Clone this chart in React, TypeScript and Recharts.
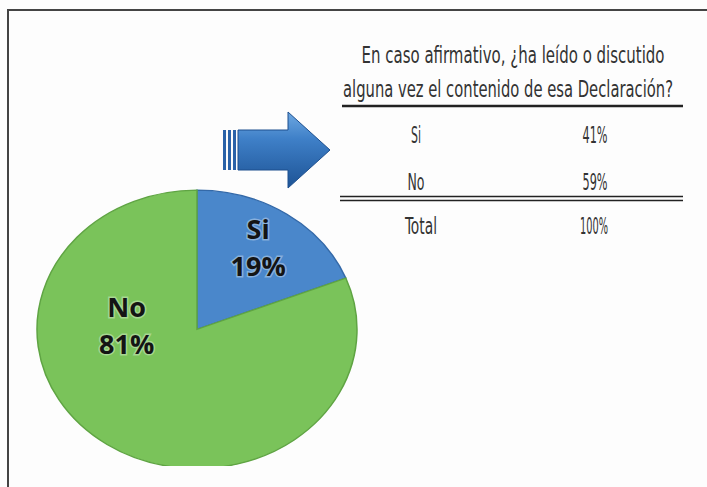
import { PieChart, Pie, Cell } from 'recharts'

// main pie
const pieNames = ['Si', 'No']
const pieValues = [19, 81]
const pieColors = ['#4a87cb', '#7ac35a']
const pieEdges = ['#3469a8', '#5fa443']

// side table
const tableTitle = ['En caso afirmativo, ¿ha leído o discutido', 'alguna vez el contenido de esa Declaración?']
const tableLabels = ['Si', 'No']
const tableValues = ['41%', '59%']
const totalLabel = 'Total'
const totalValue = '100%'

const pieData = pieNames.map((name, i) => ({ name, value: pieValues[i] }))

const SQUASH = 0.87
const CX = 192
const CY = 325
const RAD = Math.PI / 180
const narrow = '"DejaVu Sans Condensed", "Liberation Sans Narrow", "Liberation Sans", sans-serif'

function renderLabel(props: any) {
  const { cx, cy, midAngle, outerRadius, percent, name, value } = props
  // big slice label sits left of centre (excel best fit), small one on its mid angle
  const big = percent > 0.5
  const ang = big ? 180 : midAngle
  const rf = big ? 0.44 : 0.68
  const x = cx + outerRadius * rf * Math.cos(-ang * RAD)
  const y = cy + outerRadius * rf * Math.sin(-ang * RAD)
  // chart is squashed vertically by css, so un-squash the text
  return (
    <text
      transform={`translate(${x},${y}) scale(1,${1 / SQUASH})`}
      textAnchor="middle"
      fontFamily='"Open Sans", sans-serif'
      fontWeight={700}
      fontSize={27}
      fill="#141414"
      stroke="rgba(255,255,255,0.35)"
      strokeWidth={3}
      paintOrder="stroke"
    >
      <tspan x={0} y={-12}>{name}</tspan>
      <tspan x={0} y={25}>{`${value}%`}</tspan>
    </text>
  )
}

function Cond({ x, y, w, children }: { x: number; y: number; w: number; children: string }) {
  return (
    <text
      transform={`translate(${x},${y}) scale(1,1.35)`}
      textAnchor="middle"
      textLength={w}
      lengthAdjust="spacingAndGlyphs"
    >
      {children}
    </text>
  )
}

export default function App() {
  return (
    <div style={{ position: 'absolute', left: 0, top: 0, width: 707, height: 487, background: '#fdfdfd', overflow: 'hidden' }}>
      <div
        style={{
          position: 'absolute',
          left: 0,
          top: 0,
          transform: `scaleY(${SQUASH})`,
          transformOrigin: `${CX}px ${CY}px`,
        }}
      >
        <PieChart width={707} height={487}>
          <Pie
            data={pieData}
            dataKey="value"
            nameKey="name"
            cx={CX}
            cy={CY}
            outerRadius={160}
            startAngle={90}
            endAngle={-270}
            label={renderLabel}
            labelLine={false}
            strokeWidth={1.5}
            isAnimationActive={false}
          >
            {pieData.map((d, i) => (
              <Cell key={d.name} fill={pieColors[i]} stroke={pieEdges[i]} />
            ))}
          </Pie>
        </PieChart>
      </div>
      <svg width={707} height={487} style={{ position: 'absolute', left: 0, top: 0, pointerEvents: 'none' }}>
        <defs>
          <linearGradient id="arrowGrad" x1="0" y1="0" x2="0" y2="1">
            <stop offset="0%" stopColor="#6ea8e2" />
            <stop offset="35%" stopColor="#3f80c8" />
            <stop offset="100%" stopColor="#1d5395" />
          </linearGradient>
        </defs>
        {/* frame */}
        <line x1={8} x2={707} y1={10} y2={10} stroke="#444" strokeWidth={2} />
        <line x1={8} x2={8} y1={9} y2={487} stroke="#444" strokeWidth={2} />
        {/* arrow */}
        <g>
          <rect x={223} y={130} width={3} height={40} fill="#2a62a8" />
          <rect x={228} y={130} width={3} height={40} fill="#2a62a8" />
          <rect x={233} y={130} width={3} height={40} fill="#2a62a8" />
          <path
            d="M238,130 L288,130 L288,112 L330,150 L288,188 L288,170 L238,170 Z"
            fill="url(#arrowGrad)"
            stroke="#1d4f8e"
            strokeWidth={1}
          />
        </g>
        {/* table */}
        <g fontFamily={narrow} fontSize={17} fill="#333">
          <Cond x={513} y={63} w={303}>{tableTitle[0]}</Cond>
          <Cond x={508} y={97} w={330}>{tableTitle[1]}</Cond>
          <line x1={342} x2={683} y1={106} y2={106} stroke="#222" strokeWidth={2.5} />
          {tableLabels.map((lab, i) => (
            <g key={lab}>
              <Cond x={416} y={143 + i * 47} w={lab === 'Si' ? 10 : 17}>{lab}</Cond>
              <Cond x={595} y={143 + i * 47} w={25}>{tableValues[i]}</Cond>
            </g>
          ))}
          <line x1={340} x2={683} y1={196.5} y2={196.5} stroke="#222" strokeWidth={1.6} />
          <line x1={340} x2={683} y1={200.5} y2={200.5} stroke="#222" strokeWidth={1.6} />
          <Cond x={421} y={234} w={32}>{totalLabel}</Cond>
          <Cond x={594} y={234} w={28}>{totalValue}</Cond>
        </g>
      </svg>
    </div>
  )
}
